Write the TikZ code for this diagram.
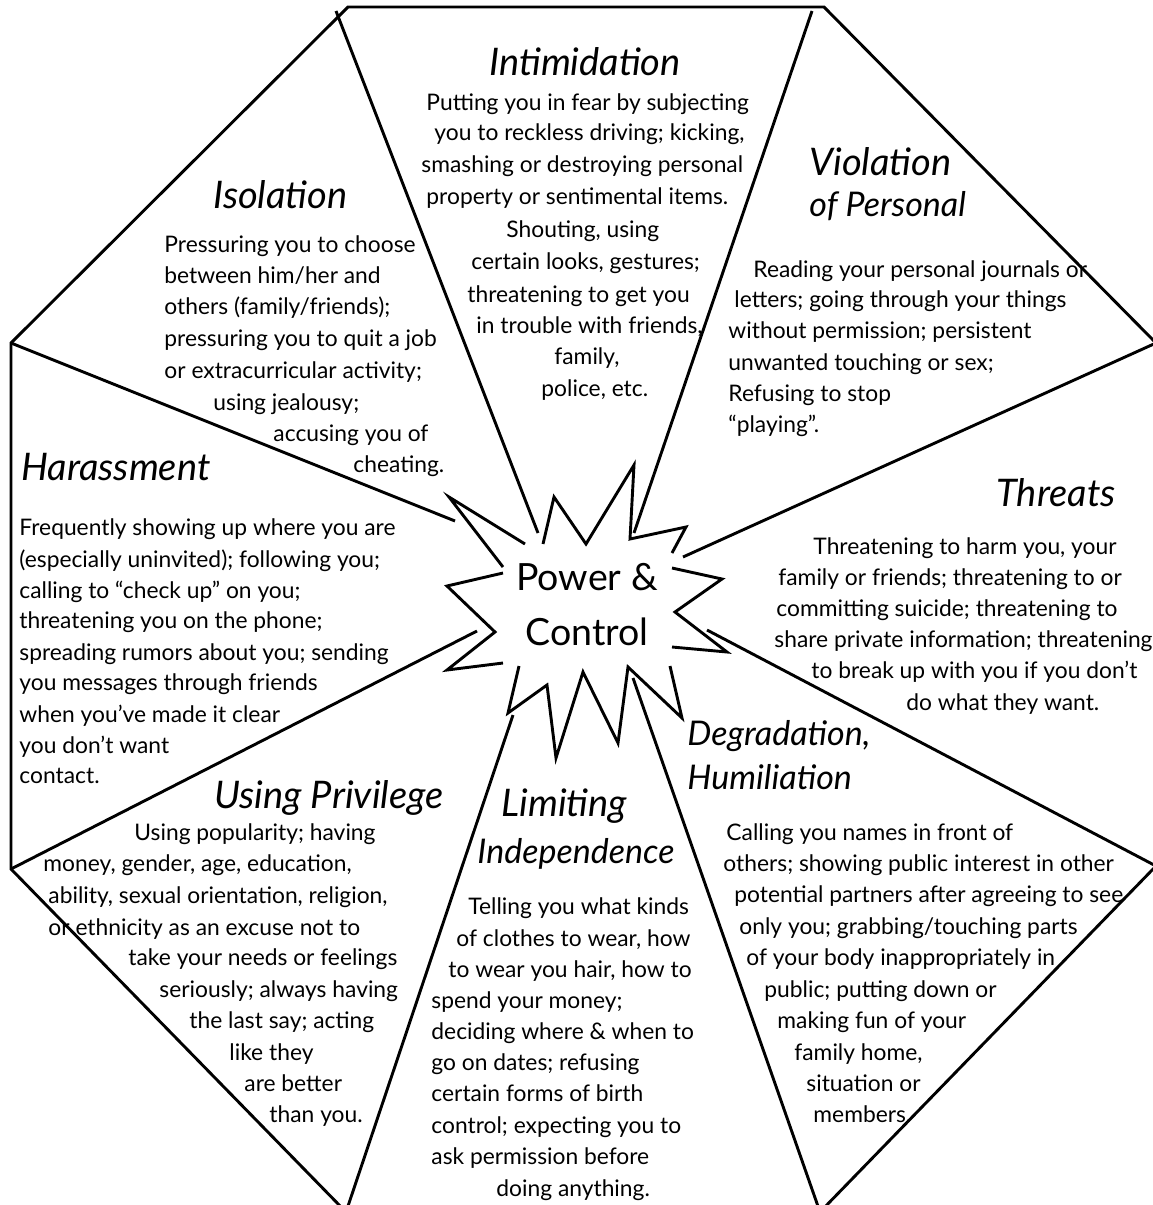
\documentclass[tikz,border=0pt]{standalone}
\usepackage{fontspec}
\setmainfont{Lato}
\usepackage{tikz}

\begin{document}
\begin{tikzpicture}[x=1pt,y=-1pt, line width=2.9pt, line join=miter,
        body/.style={anchor=base west, inner sep=0pt, font=\fontsize{22.8}{26}\selectfont},
        heading/.style={anchor=base west, inner sep=0pt, font=\fontsize{38}{44}\selectfont\itshape},
        narrow/.style={font=\fontsize{34}{40}\selectfont\itshape},
        hub/.style={anchor=base, inner sep=0pt, font=\fontsize{37.5}{42}\selectfont}]
        \useasboundingbox (0,0) rectangle (1153,1205);
        \clip (0,0) rectangle (1153,1205);

        \draw (348,7) -- (824,7) -- (1156,343) -- (1156,866) -- (820,1212) -- (346,1212) -- (11,869) -- (11,343) -- cycle;

        \draw (336,11) -- (538,533);
        \draw (812,11) -- (634,533);
        \draw (1156,343) -- (683,557);
        \draw (707,630) -- (1156,866);
        \draw (633,678) -- (820,1212);
        \draw (513,715) -- (346,1212);
        \draw (477,631) -- (11,869);
        \draw (455,521) -- (11,343);

        \draw (525,544) -- (449,497) -- (503,567);
        \draw (543,544) -- (554,497) -- (586,544) -- (634,465) -- (630,539) -- (686,527) -- (672,553);
        \draw (672,568) -- (722,579) -- (675,612) -- (727,652) -- (672,647);
        \draw (670,666) -- (682,718) -- (628,667) -- (618,743) -- (583,672) -- (556,758) -- (547,685) -- (508,713) -- (519,666);
        \draw (503,663) -- (447,670) -- (495,632) -- (447,586) -- (503,573);

        \node[hub] (power) at (587,590) {Power \&};
        \node[hub] (control) at (587,645) {Control};

        \node[heading] (intimT) at (488,75) {Intimidation};
        \foreach \x/\y/\t [count=\i] in {425/110/{Putting you in fear by subjecting}, 433/140/{you to reckless driving; kicking,},
                420/172/{smashing or destroying personal}, 425/204/{property or sentimental items.}, 505/237/{Shouting, using},
                470/269/{certain looks, gestures;}, 466/302/{threatening  to get you}, 475/333/{in trouble with friends,},
                553/364/{family,}, 540/396/{police, etc.}}
            \node[body] (intim\i) at (\x,\y) {\t};

        \node[heading] (isolT) at (212,208) {Isolation};
        \foreach \x/\y/\t [count=\i] in {163/252/{Pressuring you to choose}, 163/283/{between him/her and},
                163/314/{others (family/friends);}, 163/346/{pressuring you to quit a job}, 163/378/{or extracurricular activity;},
                212/410/{using jealousy;}, 272/441/{accusing you of}, 352/472/{cheating.}}
            \node[body] (isol\i) at (\x,\y) {\t};

        \node[heading] (violT) at (808,175) {Violation};
        \node[heading, narrow] (violT2) at (808,216) {of Personal};
        \foreach \x/\y/\t [count=\i] in {752/277/{Reading your personal journals or}, 733/307/{letters; going through your things},
                727/338/{without permission; persistent}, 727/370/{unwanted touching or sex;}, 727/401/{Refusing to stop},
                727/432/{“playing”.}}
            \node[body] (viol\i) at (\x,\y) {\t};

        \node[heading] (harassT) at (20,480) {Harassment};
        \foreach \x/\y/\t [count=\i] in {18/535/{Frequently showing up where you are}, 18/567/{(especially uninvited); following you;},
                18/598/{calling to “check up” on you;}, 18/628/{threatening you on the phone;},
                18/660/{spreading rumors about you; sending}, 18/690/{you messages through friends},
                18/722/{when you’ve made it clear}, 18/753/{you don’t want}, 18/783/{contact.}}
            \node[body] (harass\i) at (\x,\y) {\t};

        \node[heading] (threatT) at (995,506) {Threats};
        \foreach \x/\y/\t [count=\i] in {812/554/{Threatening to harm you, your}, 777/585/{family or friends; threatening to or},
                775/616/{committing suicide; threatening to}, 773/647/{share private information; threatening},
                810/678/{to break up with you if you don’t}, 905/710/{do what they want.}}
            \node[body] (threat\i) at (\x,\y) {\t};

        \node[heading] (privT) at (213,808) {Using Privilege};
        \foreach \x/\y/\t [count=\i] in {133/840/{Using popularity; having}, 42/871/{money, gender, age, education,},
                47/903/{ability, sexual orientation, religion,}, 47/935/{or ethnicity as an excuse not to},
                127/965/{take your needs or feelings}, 158/997/{seriously; always having}, 188/1028/{the last say; acting},
                228/1060/{like they}, 243/1091/{are better}, 268/1122/{than you.}}
            \node[body] (priv\i) at (\x,\y) {\t};

        \node[heading] (limitT) at (500,816) {Limiting};
        \node[heading, narrow] (limitT2) at (476,863) {Independence};
        \foreach \x/\y/\t [count=\i] in {467/914/{Telling you what kinds}, 455/946/{of clothes to wear, how},
                447/977/{to wear you hair, how to}, 430/1008/{spend your money;}, 430/1039/{deciding where \& when to},
                430/1070/{go on dates; refusing}, 430/1101/{certain forms of birth}, 430/1133/{control; expecting you to},
                430/1164/{ask permission before}, 495/1196/{doing anything.}}
            \node[body] (limit\i) at (\x,\y) {\t};

        \node[heading, narrow] (degrT) at (686,745) {Degradation,};
        \node[heading, narrow] (degrT2) at (686,789) {Humiliation};
        \foreach \x/\y/\t [count=\i] in {725/840/{Calling you names in front of}, 722/871/{others; showing public interest in other},
                733/902/{potential partners after agreeing to see}, 738/934/{only you; grabbing/touching parts},
                745/965/{of your body inappropriately in}, 763/997/{public; putting down or}, 776/1028/{making fun of your},
                793/1060/{family home,}, 805/1091/{situation or}, 812/1122/{members.}}
            \node[body] (degr\i) at (\x,\y) {\t};
    \end{tikzpicture}
\end{document}
